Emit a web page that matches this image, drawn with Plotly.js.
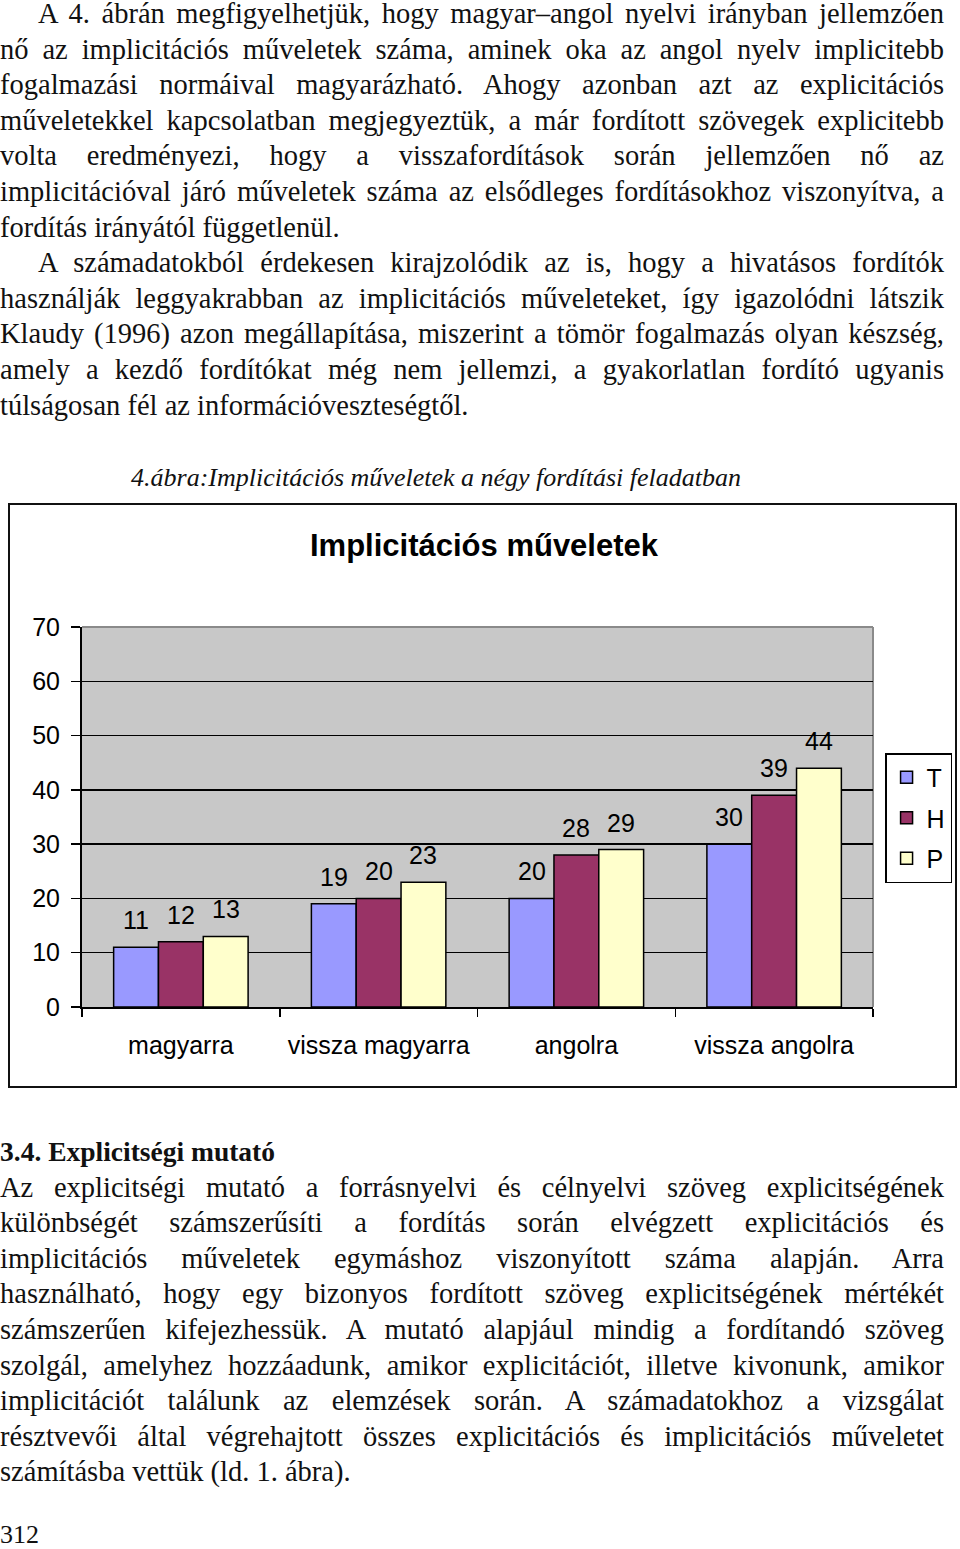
<!DOCTYPE html>
<html>
<head>
<meta charset="utf-8">
<script src="https://cdn.plot.ly/plotly-3.0.1.min.js"></script>
<style>
  html, body { margin: 0; padding: 0; background: #fff; }
  body { width: 960px; height: 1549px; position: relative; overflow: hidden; }
  .txt { position: absolute; left: 0; width: 944px; font-family: "Liberation Serif", serif; font-size: 28.5px; line-height: 35.6px; color: #111; }
  .j { text-align: justify; text-align-last: justify; white-space: normal; }
  .l { text-align: left; }
  .ind { text-indent: 38px; }
  .cap { position: absolute; left: 0; width: 872px; text-align: center; top: 460px; font-family: "Liberation Serif", serif; font-style: italic; font-size: 26px; line-height: 35.6px; color: #111; }
  #box { position: absolute; left: 8px; top: 503px; width: 949px; height: 585px; border: 2px solid #111; box-sizing: border-box; }
  #chart { position: absolute; left: 0; top: 0; width: 945px; height: 581px; }
</style>
</head>
<body>
<div class="txt" style="top:-4px;">
  <div class="j ind">A 4. ábrán megfigyelhetjük, hogy magyar–angol nyelvi irányban jellemzően</div>
  <div class="j">nő az implicitációs műveletek száma, aminek oka az angol nyelv implicitebb</div>
  <div class="j">fogalmazási normáival magyarázható. Ahogy azonban azt az explicitációs</div>
  <div class="j">műveletekkel kapcsolatban megjegyeztük, a már fordított szövegek explicitebb</div>
  <div class="j">volta eredményezi, hogy a visszafordítások során jellemzően nő az</div>
  <div class="j">implicitációval járó műveletek száma az elsődleges fordításokhoz viszonyítva, a</div>
  <div class="l">fordítás irányától függetlenül.</div>
  <div class="j ind">A számadatokból érdekesen kirajzolódik az is, hogy a hivatásos fordítók</div>
  <div class="j">használják leggyakrabban az implicitációs műveleteket, így igazolódni látszik</div>
  <div class="j">Klaudy (1996) azon megállapítása, miszerint a tömör fogalmazás olyan készség,</div>
  <div class="j">amely a kezdő fordítókat még nem jellemzi, a gyakorlatlan fordító ugyanis</div>
  <div class="l">túlságosan fél az információveszteségtől.</div>
</div>

<div class="cap">4.ábra:Implicitációs műveletek a négy fordítási feladatban</div>

<div id="box"><div id="chart"></div></div>

<div class="txt" style="top:1134px;">
  <div class="l" style="font-weight:bold; font-size:27.5px;">3.4. Explicitségi mutató</div>
  <div class="j">Az explicitségi mutató a forrásnyelvi és célnyelvi szöveg explicitségének</div>
  <div class="j">különbségét számszerűsíti a fordítás során elvégzett explicitációs és</div>
  <div class="j">implicitációs műveletek egymáshoz viszonyított száma alapján. Arra</div>
  <div class="j">használható, hogy egy bizonyos fordított szöveg explicitségének mértékét</div>
  <div class="j">számszerűen kifejezhessük. A mutató alapjául mindig a fordítandó szöveg</div>
  <div class="j">szolgál, amelyhez hozzáadunk, amikor explicitációt, illetve kivonunk, amikor</div>
  <div class="j">implicitációt találunk az elemzések során. A számadatokhoz a vizsgálat</div>
  <div class="j">résztvevői által végrehajtott összes explicitációs és implicitációs műveletet</div>
  <div class="l">számításba vettük (ld. 1. ábra).</div>
</div>
<div class="txt" style="top:1517px; font-size:26px;"><div class="l">312</div></div>

<script>
// ---- data ----
const categories = ["magyarra", "vissza magyarra", "angolra", "vissza angolra"];
const seriesNames = ["T", "H", "P"];
const valuesT = [11, 19, 20, 30];
const valuesH = [12, 20, 28, 39];
const valuesP = [13, 23, 29, 44];
const yTicks = [0, 10, 20, 30, 40, 50, 60, 70];
const chartTitle = "Implicitációs műveletek";

// ---- styles ----
const colors = ["#9999FF", "#993366", "#FFFFCC"];
const FONT = "Liberation Sans, Arial, sans-serif";
const FS = 25;
const bargap = 0.32;

const allValues = [valuesT, valuesH, valuesP];
const traces = allValues.map((vals, i) => ({
  type: "bar",
  name: seriesNames[i],
  x: categories,
  y: vals,
  legendgroup: "g" + i,
  marker: { color: colors[i], line: { color: "#000", width: 1.5 } },
  hoverinfo: "skip"
}));

// data labels above each bar, positioned on the category axis scale
const barW = (1 - bargap) / seriesNames.length;
const annotations = [];
allValues.forEach((vals, i) => {
  vals.forEach((v, j) => {
    annotations.push({
      xref: "x", yref: "y",
      x: j + (i - (seriesNames.length - 1) / 2) * barW,
      y: v,
      text: String(v),
      showarrow: false,
      yanchor: "middle",
      yshift: 27,
      font: { family: FONT, size: FS, color: "#000" }
    });
  });
});

const layout = {
  width: 945, height: 581,
  margin: { l: 72, r: 82, t: 122, b: 79, pad: 0, autoexpand: false },
  paper_bgcolor: "#fff",
  plot_bgcolor: "#C8C8C8",
  barmode: "group",
  bargap: bargap,
  bargroupgap: 0,
  title: {
    text: "<b>" + chartTitle + "</b>",
    font: { family: FONT, size: 31, color: "#000" },
    xref: "container", yref: "container",
    x: 0.5016, y: 0.931, xanchor: "center", yanchor: "middle"
  },
  xaxis: {
    type: "category",
    tickson: "boundaries",
    ticks: "outside", ticklen: 8, tickwidth: 1.5, tickcolor: "#000",
    showline: true, linecolor: "#000", linewidth: 2,
    showgrid: false,
    tickfont: { family: FONT, size: FS, color: "#000" },
    ticklabelstandoff: 15,
    fixedrange: true
  },
  yaxis: {
    range: [0, 70],
    tickvals: yTicks,
    ticks: "outside", ticklen: 9, tickwidth: 1.5, tickcolor: "#000",
    showline: true, linecolor: "#000", linewidth: 2,
    showgrid: true, gridcolor: "#000", gridwidth: 1.5,
    zeroline: false,
    tickfont: { family: FONT, size: FS, color: "#000" },
    ticklabelstandoff: 6,
    fixedrange: true
  },
  shapes: [
    { type: "line", xref: "paper", yref: "paper", x0: 0, x1: 1, y0: 1, y1: 1, line: { color: "#8a8a8a", width: 2 }, layer: "above" },
    { type: "line", xref: "paper", yref: "paper", x0: 1, x1: 1, y0: 0, y1: 1, line: { color: "#8a8a8a", width: 2 }, layer: "below" }
  ],
  showlegend: true,
  legend: {
    xref: "container", yref: "container",
    x: 0.926, y: 0.5731, xanchor: "left", yanchor: "top",
    bgcolor: "#fff", bordercolor: "#000", borderwidth: 1.5,
    font: { family: FONT, size: FS, color: "#000" },
    traceorder: "grouped", tracegroupgap: 5,
    itemwidth: 30
  },
  annotations: annotations
};

Plotly.newPlot("chart", traces, layout, { displayModeBar: false, staticPlot: true });
</script>
</body>
</html>
